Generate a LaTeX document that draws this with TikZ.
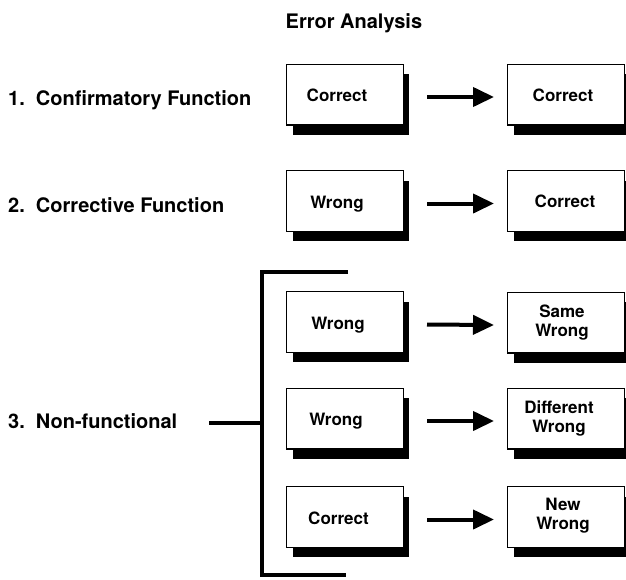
\documentclass[tikz,border=0pt]{standalone}
\usepackage{fontspec}
\setmainfont{TeX Gyre Heros}
\usetikzlibrary{arrows.meta,shadows}

\begin{document}
\begin{tikzpicture}[x=1pt,y=-1pt,
  heading/.style={anchor=base west, inner sep=0pt, font=\fontsize{20}{24}\selectfont\bfseries},
  box/.style={draw, line width=1.3pt, fill=white, minimum width=116.7pt,
    minimum height=60.7pt, inner sep=0pt,
    drop shadow={shadow xshift=6pt, shadow yshift=-10pt, opacity=1, fill=black}},
  boxtext/.style={inner sep=0pt, align=center, font=\fontsize{17}{18.5}\selectfont\bfseries},
  oneline/.style={boxtext, text height=12.2pt, text depth=0pt},
  arr/.style={line width=4pt, -{Triangle[length=21pt,width=19pt]}},
  bar/.style={line width=4pt, line join=miter, line cap=butt}]

\useasboundingbox (0,0) rectangle (626,579);

% title and row headings
\node[heading] (title) at (285.5,28) {Error Analysis};
\node[heading] (lab1) at (8,105.5) {1.\ \ Confirmatory Function};
\node[heading] (lab2) at (8,212) {2.\ \ Corrective Function};
\node[heading] (lab3) at (8,428) {3.\ \ Non-functional};

% boxes: first attempt (left) and second attempt (right)
\node[box] (a1) at (345,94.5) {};
\node[box] (b1) at (566,94.5) {};
\node[box] (a2) at (345,201) {};
\node[box] (b2) at (566,201) {};
\node[box] (a3) at (345,322) {};
\node[box] (b3) at (566,322.5) {};
\node[box] (a4) at (345,418.5) {};
\node[box] (b4) at (566,418.5) {};
\node[box] (a5) at (345,517) {};
\node[box] (b5) at (566,517) {};

% box captions
\node[oneline] (ta1) at ([xshift=-8pt,yshift=-0.5pt]a1.center) {Correct};
\node[oneline] (tb1) at ([xshift=-3pt,yshift=-0.5pt]b1.center) {Correct};
\node[oneline] (ta2) at ([xshift=-8pt,yshift=-1pt]a2.center) {Wrong};
\node[oneline] (tb2) at ([xshift=-1pt,yshift=-0.5pt]b2.center) {Correct};
\node[oneline] (ta3) at ([xshift=-7pt,yshift=-1pt]a3.center) {Wrong};
\node[boxtext] (tb3) at ([xshift=-4pt]b3.center) {Same\\Wrong};
\node[oneline] (ta4) at ([xshift=-9pt,yshift=-1pt]a4.center) {Wrong};
\node[boxtext] (tb4) at ([xshift=-7pt]b4.center) {Different\\Wrong};
\node[oneline] (ta5) at ([xshift=-6.5pt,yshift=-1pt]a5.center) {Correct};
\node[boxtext] (tb5) at ([xshift=-3pt,yshift=1.5pt]b5.center) {New\\Wrong};

% arrows between attempts
\foreach \i in {1,...,5}
  \draw[arr] ([xshift=23pt,yshift=-2.5pt]a\i.east) -- ([xshift=-13pt,yshift=-2.5pt]b\i.west);

% bracket grouping the non-functional cases
\coordinate (brtopend) at (348,272);
\coordinate (brtop) at (262,272);
\coordinate (brbot) at (262,575);
\coordinate (brbotend) at (346,575);
\coordinate (brmid) at (262,423);
\coordinate (stem) at (209,423);
\draw[bar] (brtopend) -- (brtop) -- (brbot) -- (brbotend);
\draw[bar] (stem) -- (brmid);
\end{tikzpicture}
\end{document}
